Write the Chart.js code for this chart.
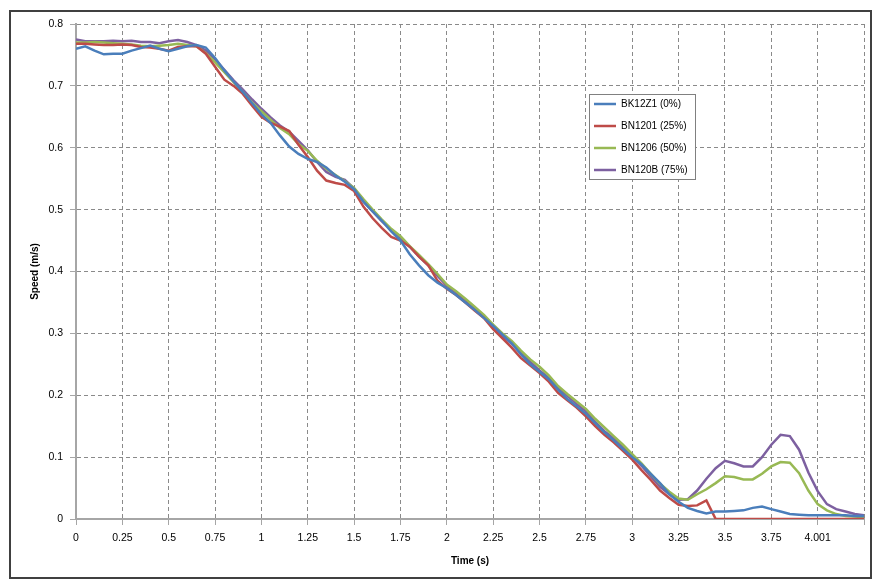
<!DOCTYPE html>
<html>
<head>
<meta charset="utf-8">
<title>Speed vs Time</title>
<script src="https://cdn.jsdelivr.net/npm/chart.js@4/dist/chart.umd.min.js"></script>
<style>
    html, body { margin: 0; padding: 0; background: #fff; }
    #chart { display: block; }
</style>
</head>
<body>
<canvas id="chart" width="875" height="581"></canvas>
<script>
// time samples (s)
const times = [
    0, 0.05, 0.1, 0.15, 0.2, 0.25, 0.3, 0.35, 0.4, 0.45,
    0.5, 0.55, 0.6, 0.65, 0.7, 0.75, 0.8, 0.85, 0.9, 0.95,
    1, 1.05, 1.1, 1.15, 1.2, 1.25, 1.3, 1.35, 1.4, 1.45,
    1.5, 1.55, 1.6, 1.65, 1.7, 1.75, 1.8, 1.85, 1.9, 1.95,
    2, 2.05, 2.1, 2.15, 2.2, 2.25, 2.3, 2.35, 2.4, 2.45,
    2.5, 2.55, 2.6, 2.65, 2.7, 2.75, 2.8, 2.85, 2.9, 2.95,
    3, 3.05, 3.1, 3.15, 3.2, 3.25, 3.3, 3.35, 3.4, 3.45,
    3.5, 3.55, 3.6, 3.65, 3.7, 3.75, 3.8, 3.85, 3.9, 3.95,
    4, 4.05, 4.1, 4.15, 4.2, 4.25
];

const seriesNames = ['BK12Z1 (0%)', 'BN1201 (25%)', 'BN1206 (50%)', 'BN120B (75%)'];
const seriesColors = ['#4A7EBB', '#BE4B48', '#98B954', '#7D60A0'];

// speed (m/s)
const bk12z1 = [
    0.760, 0.764, 0.757, 0.751, 0.752, 0.752, 0.757, 0.761, 0.765, 0.760,
    0.756, 0.760, 0.764, 0.766, 0.762, 0.745, 0.725, 0.707, 0.690, 0.672,
    0.654, 0.640, 0.620, 0.602, 0.590, 0.582, 0.577, 0.568, 0.555, 0.545,
    0.533, 0.513, 0.497, 0.482, 0.465, 0.450, 0.428, 0.410, 0.394, 0.382,
    0.373, 0.362, 0.350, 0.338, 0.325, 0.312, 0.298, 0.284, 0.266, 0.250,
    0.238, 0.226, 0.209, 0.194, 0.182, 0.170, 0.155, 0.140, 0.127, 0.113,
    0.100, 0.088, 0.073, 0.058, 0.040, 0.028, 0.018, 0.013, 0.009, 0.012,
    0.012, 0.013, 0.014, 0.018, 0.020, 0.016, 0.012, 0.008, 0.007, 0.006,
    0.006, 0.006, 0.006, 0.006, 0.005, 0.005
];
const bn1201 = [
    0.768, 0.768, 0.767, 0.766, 0.766, 0.767, 0.766, 0.763, 0.762, 0.760,
    0.757, 0.763, 0.764, 0.764, 0.752, 0.731, 0.710, 0.700, 0.687, 0.668,
    0.650, 0.640, 0.634, 0.627, 0.605, 0.585, 0.563, 0.547, 0.543, 0.540,
    0.530, 0.505, 0.486, 0.470, 0.456, 0.450, 0.440, 0.424, 0.410, 0.385,
    0.372, 0.362, 0.350, 0.337, 0.325, 0.307, 0.292, 0.277, 0.260, 0.248,
    0.236, 0.222, 0.204, 0.192, 0.180, 0.166, 0.150, 0.136, 0.124, 0.110,
    0.096, 0.079, 0.063, 0.046, 0.034, 0.023, 0.021, 0.022, 0.030, 0,
    0, 0, 0, 0, 0, 0, 0, 0, 0, 0,
    0, 0, 0, 0, 0, 0
];
const bn1206 = [
    0.770, 0.770, 0.771, 0.770, 0.769, 0.768, 0.767, 0.765, 0.764, 0.765,
    0.766, 0.768, 0.766, 0.764, 0.753, 0.738, 0.722, 0.706, 0.690, 0.673,
    0.659, 0.645, 0.632, 0.622, 0.606, 0.595, 0.579, 0.566, 0.556, 0.546,
    0.535, 0.517, 0.500, 0.484, 0.469, 0.457, 0.441, 0.427, 0.412, 0.396,
    0.379, 0.368, 0.356, 0.343, 0.330, 0.314, 0.300, 0.288, 0.272, 0.258,
    0.246, 0.232, 0.215, 0.202, 0.190, 0.178, 0.162, 0.148, 0.134, 0.120,
    0.105, 0.090, 0.073, 0.057, 0.044, 0.033, 0.031, 0.040, 0.048, 0.058,
    0.069, 0.068, 0.064, 0.064, 0.073, 0.085, 0.092, 0.091, 0.074, 0.046,
    0.024, 0.014, 0.008, 0.005, 0.004, 0.003
];
const bn120b = [
    0.775, 0.772, 0.772, 0.772, 0.773, 0.772, 0.773, 0.771, 0.771, 0.769,
    0.772, 0.774, 0.771, 0.766, 0.757, 0.743, 0.726, 0.709, 0.694, 0.678,
    0.663, 0.649, 0.636, 0.626, 0.611, 0.596, 0.577, 0.561, 0.553, 0.548,
    0.534, 0.513, 0.497, 0.481, 0.467, 0.455, 0.440, 0.424, 0.410, 0.393,
    0.377, 0.366, 0.353, 0.340, 0.327, 0.311, 0.296, 0.283, 0.268, 0.254,
    0.240, 0.228, 0.212, 0.199, 0.186, 0.174, 0.157, 0.142, 0.130, 0.116,
    0.101, 0.086, 0.069, 0.052, 0.040, 0.031, 0.032, 0.046, 0.065, 0.082,
    0.094, 0.090, 0.085, 0.085, 0.100, 0.120, 0.136, 0.134, 0.112, 0.075,
    0.045, 0.024, 0.016, 0.012, 0.008, 0.006
];

const allSeries = [bk12z1, bn1201, bn1206, bn120b];

const gridGrey = '#8a8a8a';
const axisGrey = '#a6a6a6';
const tickFont = { family: 'Liberation Sans', size: 10.5 };

// legend box drawn inside the plot, like the Excel original
const boxLegend = {
    id: 'boxLegend',
    afterDraw(chart) {
        const ctx = chart.ctx;
        const x = 589.5, y = 94.5, w = 106, h = 85;
        ctx.save();
        ctx.fillStyle = '#fff';
        ctx.fillRect(x, y, w, h);
        ctx.strokeStyle = '#808080';
        ctx.lineWidth = 1;
        ctx.strokeRect(x, y, w, h);
        ctx.font = '10px "Liberation Sans"';
        ctx.textBaseline = 'middle';
        chart.data.datasets.forEach((ds, i) => {
            const ry = 104 + i * 22;
            ctx.strokeStyle = ds.borderColor;
            ctx.lineWidth = 2.5;
            ctx.beginPath();
            ctx.moveTo(594, ry);
            ctx.lineTo(616, ry);
            ctx.stroke();
            ctx.fillStyle = '#000';
            ctx.fillText(ds.label, 621, ry + 0.5);
        });
        ctx.restore();
    }
};

const frame = {
    id: 'frame',
    beforeDraw(chart) {
        const ctx = chart.ctx;
        ctx.save();
        ctx.fillStyle = '#fff';
        ctx.fillRect(0, 0, chart.width, chart.height);
        ctx.strokeStyle = '#404040';
        ctx.lineWidth = 2;
        ctx.strokeRect(10, 11, 861, 567);
        ctx.restore();
    }
};

new Chart(document.getElementById('chart'), {
    type: 'line',
    data: {
        datasets: seriesNames.map((name, i) => ({
            label: name,
            data: times.map((t, j) => ({ x: t, y: allSeries[i][j] })),
            borderColor: seriesColors[i],
            backgroundColor: seriesColors[i],
            borderWidth: 2.5,
            pointRadius: 0,
            tension: 0,
            fill: false,
        }))
    },
    options: {
        responsive: false,
        animation: false,
        layout: { padding: { left: 10, right: 11, top: 24, bottom: 10 } },
        plugins: {
            legend: { display: false },
            tooltip: { enabled: false },
        },
        scales: {
            x: {
                type: 'linear',
                min: 0,
                max: 4.25,
                afterFit: (scale) => { scale.height = 52; },
                ticks: {
                    stepSize: 0.25,
                    maxTicksLimit: 30,
                    autoSkip: false,
                    maxRotation: 0,
                    padding: 7,
                    color: '#000',
                    font: tickFont,
                    callback: (v) => v === 4 ? '4.001' : (v === 4.25 ? '' : String(v)),
                },
                grid: {
                    color: gridGrey,
                    lineWidth: 1,
                    tickLength: 6,
                    tickColor: axisGrey,
                    tickWidth: 1,
                },
                border: { display: true, color: axisGrey, width: 2, dash: [4, 3] },
                title: {
                    display: true,
                    text: 'Time (s)',
                    color: '#000',
                    font: { family: 'Liberation Sans', size: 10, weight: 'bold' },
                    padding: { top: 0, bottom: 4 },
                },
            },
            y: {
                min: 0,
                max: 0.8,
                afterFit: (scale) => { scale.width = 66; },
                ticks: {
                    stepSize: 0.1,
                    padding: 7,
                    color: '#000',
                    font: tickFont,
                    callback: (v) => String(+v.toFixed(2)),
                },
                grid: {
                    color: gridGrey,
                    lineWidth: 1,
                    tickLength: 6,
                    tickColor: axisGrey,
                    tickWidth: 1,
                },
                border: { display: true, color: axisGrey, width: 2, dash: [4, 3] },
                title: {
                    display: true,
                    text: 'Speed (m/s)',
                    color: '#000',
                    font: { family: 'Liberation Sans', size: 10, weight: 'bold' },
                    padding: { top: 19, bottom: 0 },
                },
            },
        },
    },
    plugins: [frame, boxLegend],
});
</script>
</body>
</html>
